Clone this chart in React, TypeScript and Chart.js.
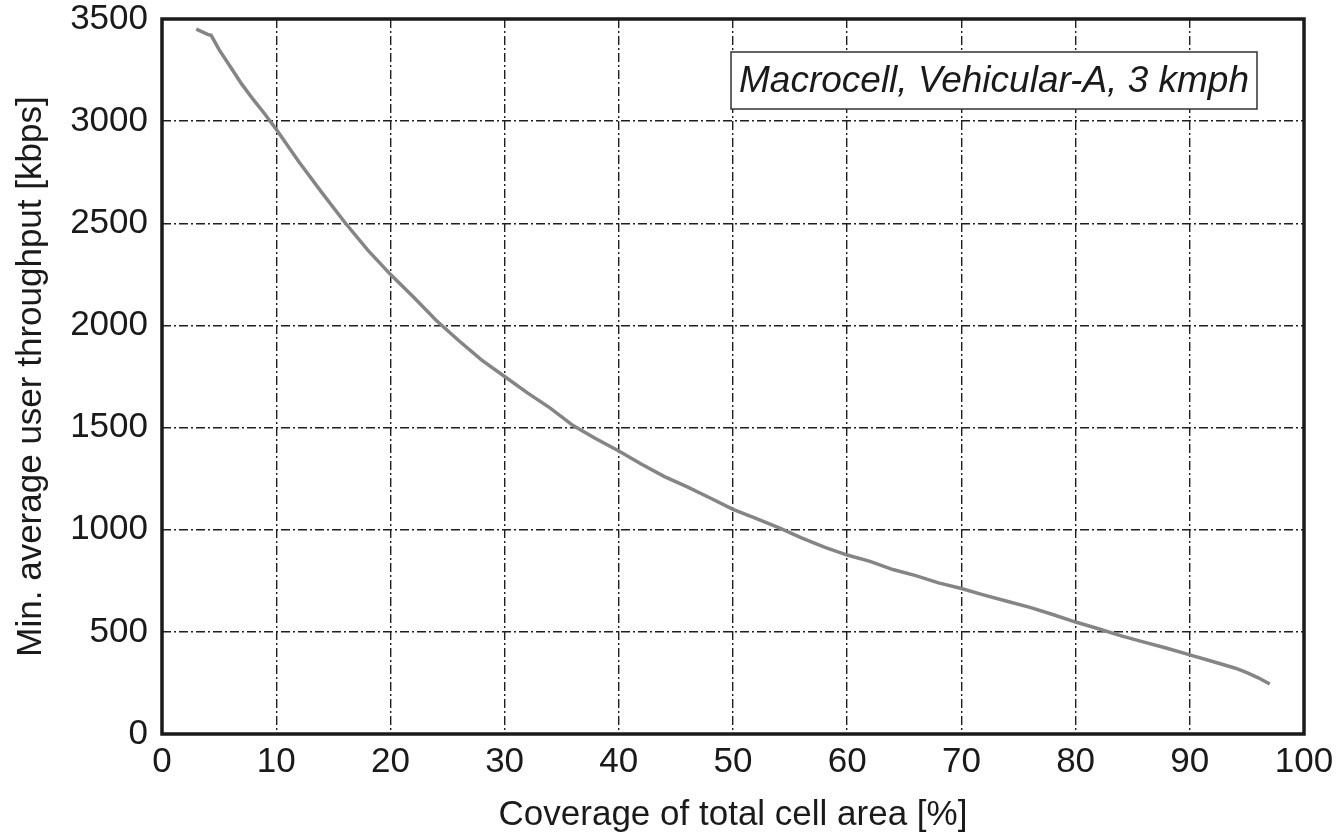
import React, { useEffect, useRef } from "react";
import { Chart, registerables } from "chart.js";

Chart.register(...registerables);

// Coverage of total cell area [%]
const coverage = [
  3, 4, 4.3, 4.6, 5, 6, 7, 8, 9, 10, 12, 14, 16, 18, 20, 22, 24, 26, 28, 30,
  32, 34, 36, 38, 40, 42, 44, 46, 48, 50, 52, 54, 56, 58, 60, 62, 64, 66, 68,
  70, 72, 74, 76, 78, 80, 82, 84, 86, 88, 90, 92, 94, 95, 96, 97,
];

// Min. average user throughput [kbps]
const throughput = [
  3450, 3425, 3420, 3390, 3350, 3265, 3180, 3105, 3035, 2960, 2800, 2650, 2505,
  2370, 2250, 2140, 2025, 1925, 1830, 1750, 1670, 1595, 1510, 1445, 1385, 1320,
  1260, 1210, 1155, 1100, 1055, 1010, 960, 915, 876, 845, 805, 775, 740, 712,
  680, 650, 620, 585, 548, 515, 480, 450, 420, 387, 355, 322, 300, 275, 245,
];

const xTicks = [0, 10, 20, 30, 40, 50, 60, 70, 80, 90, 100];
const yTicks = [0, 500, 1000, 1500, 2000, 2500, 3000, 3500];

const xTitle = "Coverage of total cell area [%]";
const yTitle = "Min. average user throughput [kbps]";
const boxLabel = "Macrocell, Vehicular-A, 3 kmph";

const FONT = "'Liberation Sans', Arial, Helvetica, sans-serif";

// Thick frame round the plot area plus the boxed scenario label
const framePlugin = {
  id: "frame",
  afterDraw(chart: any) {
    const { ctx, chartArea } = chart;
    const { left, top, right, bottom } = chartArea;
    ctx.save();
    ctx.strokeStyle = "#1a1a1a";
    ctx.lineWidth = 3.5;
    ctx.strokeRect(left, top, right - left, bottom - top);

    ctx.font = `italic 37px ${FONT}`;
    const tw = ctx.measureText(boxLabel).width;
    const bx1 = right - 47;
    const bx0 = bx1 - tw - 16;
    const by0 = top + 33;
    const by1 = top + 90;
    ctx.fillStyle = "#ffffff";
    ctx.fillRect(bx0, by0, bx1 - bx0, by1 - by0);
    ctx.lineWidth = 1.5;
    ctx.strokeStyle = "#333333";
    ctx.strokeRect(bx0, by0, bx1 - bx0, by1 - by0);
    ctx.fillStyle = "#1a1a1a";
    ctx.textBaseline = "middle";
    ctx.textAlign = "left";
    ctx.fillText(boxLabel, bx0 + 8, (by0 + by1) / 2 + 1);
    ctx.restore();
  },
};

export default function App() {
  const ref = useRef<HTMLCanvasElement | null>(null);

  useEffect(() => {
    const canvas = ref.current;
    if (!canvas) return;
    const points = coverage.map((x, i) => ({ x, y: throughput[i] }));

    const chart = new Chart(canvas, {
      type: "line",
      data: {
        datasets: [
          {
            data: points,
            borderColor: "#858585",
            borderWidth: 3.5,
            pointRadius: 0,
            tension: 0,
            fill: false,
          },
        ],
      },
      options: {
        responsive: false,
        animation: false,
        events: [],
        layout: { padding: { left: 0, top: 19, right: 38, bottom: 0 } },
        plugins: {
          legend: { display: false },
          tooltip: { enabled: false },
        },
        scales: {
          x: {
            type: "linear",
            min: 0,
            max: 100,
            afterBuildTicks: (s: any) => {
              s.ticks = xTicks.map((v) => ({ value: v }));
            },
            afterFit: (s: any) => {
              s.height = 105;
            },
            ticks: {
              color: "#1a1a1a",
              font: { family: FONT, size: 35 },
              padding: 7,
              maxRotation: 0,
              autoSkip: false,
            },
            grid: {
              color: "#1f1f1f",
              lineWidth: 1.4,
              drawTicks: false,
            },
            border: { display: false, dash: [9, 3, 2, 3] },
            title: {
              display: true,
              text: xTitle,
              color: "#1a1a1a",
              font: { family: FONT, size: 35 },
              padding: { top: 0, bottom: 3 },
            },
          },
          y: {
            type: "linear",
            min: 0,
            max: 3500,
            afterBuildTicks: (s: any) => {
              s.ticks = yTicks.map((v) => ({ value: v }));
            },
            afterFit: (s: any) => {
              s.width = 162;
              s.paddingTop = 0;
              s.paddingBottom = 0;
            },
            ticks: {
              color: "#1a1a1a",
              font: { family: FONT, size: 35 },
              padding: 14,
              autoSkip: false,
              callback: (v: any) => String(v),
            },
            grid: {
              color: "#1f1f1f",
              lineWidth: 1.4,
              drawTicks: false,
            },
            border: { display: false, dash: [9, 3, 2, 3] },
            title: {
              display: true,
              text: yTitle,
              color: "#1a1a1a",
              font: { family: FONT, size: 35 },
              padding: { top: 10, bottom: 0 },
            },
          },
        },
      },
      plugins: [framePlugin],
    });

    return () => chart.destroy();
  }, []);

  return (
    <div
      style={{
        position: "fixed",
        left: 0,
        top: 0,
        width: 1342,
        height: 839,
        background: "#ffffff",
      }}
    >
      <canvas ref={ref} width={1342} height={839} />
    </div>
  );
}
